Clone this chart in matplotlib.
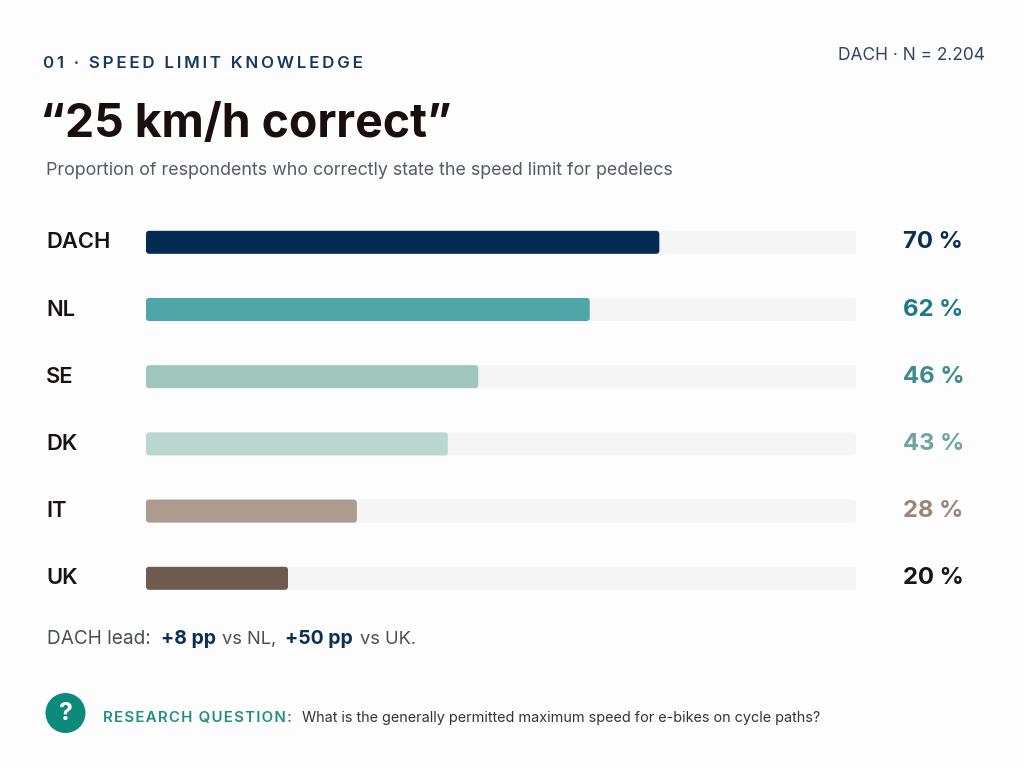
import matplotlib
matplotlib.use("Agg")
import matplotlib.pyplot as plt
from matplotlib.patches import FancyBboxPatch, Circle

plt.rcParams['font.family'] = ['Inter', 'DejaVu Sans']

countries = ["DACH", "NL", "SE", "DK", "IT", "UK"]
value_labels = ["70 %", "62 %", "46 %", "43 %", "28 %", "20 %"]
bar_lengths = [72.3, 62.5, 46.8, 42.5, 29.7, 20.0]
track_length = 100
bar_colors = ["#042C53", "#4FA6A8", "#9FC6BC", "#B9D7CF", "#AE9B8F", "#6E5A4E"]
label_colors = ["#0B2F52", "#1A7A85", "#3F8A8A", "#6FA5A0", "#9A8577", "#1A1414"]

BG = "#FEFDFE"
W, H = 1024, 768
fig = plt.figure(figsize=(W / 100, H / 100), dpi=100, facecolor=BG)


def hair(s, n=1):
    return ("\u200a" * n).join(s)


# Bars: x in percent of track, y in rows
L, R, TOP, ROW = 146, 856, 242.3, 67.2
ax = fig.add_axes([L / W, 1 - (TOP + 5.5 * ROW) / H, (R - L) / W, 6 * ROW / H])
ax.set_xlim(0, track_length)
ax.set_ylim(5.5, -0.5)
ax.axis("off")
ux, uy = (R - L) / track_length, ROW
aspect = ux / uy
bar_h = 23 / ROW


def rounded(i, length, color, r_px):
    ax.add_patch(FancyBboxPatch((0, i - bar_h / 2), length, bar_h,
                                boxstyle=f"round,pad=0,rounding_size={r_px / ux}",
                                mutation_aspect=aspect, fc=color, ec="none", clip_on=False))


for i, (name, length, col) in enumerate(zip(countries, bar_lengths, bar_colors)):
    rounded(i, track_length, "#F5F5F6", 3)
    rounded(i, length, col, 3)

# Overlay in pixel coordinates
ov = fig.add_axes([0, 0, 1, 1], facecolor="none")
ov.set_xlim(0, W)
ov.set_ylim(H, 0)
ov.axis("off")

for i, (name, lab, col) in enumerate(zip(countries, value_labels, label_colors)):
    y = TOP + i * ROW
    ov.text(46, y, name, fontsize=15.8, fontweight="semibold", color="#1A1212", va="center", ha="left")
    ov.text(903, y, lab, fontsize=17.2, fontweight="bold", color=col, va="center", ha="left")

ov.text(43, 63.5, hair("01 · SPEED LIMIT KNOWLEDGE", 2), fontsize=12.2, fontweight="semibold",
        color="#17395F", va="center", ha="left")
ov.text(985, 55.5, "DACH · N = 2.204", fontsize=12.5, color="#2F4560", va="center", ha="right")
ov.text(40, 125, "“25 km/h correct”", fontsize=33.4, fontweight="bold", color="#1A0E0E",
        va="center", ha="left")
ov.text(46, 170.5, "Proportion of respondents who correctly state the speed limit for pedelecs",
        fontsize=12.85, color="#555B66", va="center", ha="left")


def runs(x, y, parts):
    r = fig.canvas.get_renderer()
    for s, col, wt, size, gap in parts:
        t = ov.text(x, y, s, fontsize=size, color=col, fontweight=wt, va="baseline", ha="left")
        x = t.get_window_extent(r).x1 + gap


runs(47, 644, [("DACH lead:", "#4A4F5A", "normal", 13.7, 10),
               ("+8 pp", "#0B2F52", "bold", 14, 6), ("vs NL,", "#4A4F5A", "normal", 13.2, 9),
               ("+50 pp", "#0B2F52", "bold", 14, 7), ("vs UK.", "#4A4F5A", "normal", 13.2, 0)])

ov.add_patch(Circle((65.5, 713), 20, fc="#0E8A7D", ec="none"))
ov.text(65.5, 714, "?", fontsize=18, fontweight="bold", color="white", ha="center", va="center")
ov.text(103, 718, hair("RESEARCH QUESTION:"), fontsize=10.8, fontweight="semibold", color="#1F8F80",
        va="center", ha="left")
ov.text(302, 718, "What is the generally permitted maximum speed for e-bikes on cycle paths?",
        fontsize=10.36, color="#2F3440", va="center", ha="left")

fig.savefig("out.png", dpi=100, facecolor=BG)
